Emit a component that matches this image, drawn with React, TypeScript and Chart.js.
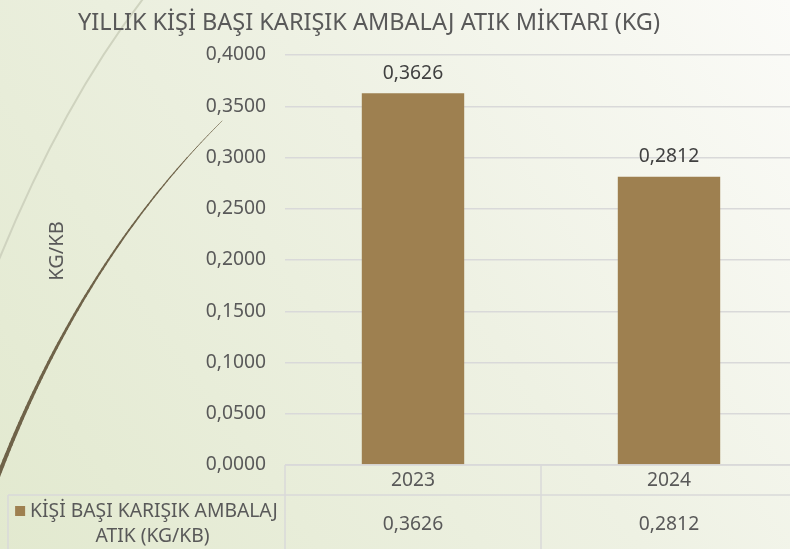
import React, { useEffect, useRef } from "react";
import { Chart, registerables } from "chart.js";

Chart.register(...registerables);

const TITLE = "YILLIK KİŞİ BAŞI KARIŞIK AMBALAJ ATIK MİKTARI (KG)";
const Y_TITLE = "KG/KB";
const CATEGORIES = ["2023", "2024"];
const VALUES = [0.3626, 0.2812];
const SERIES_NAME_LINES = ["KİŞİ BAŞI KARIŞIK AMBALAJ", "ATIK (KG/KB)"];
const Y_MIN = 0;
const Y_MAX = 0.4;
const Y_STEP = 0.05;

const FONT = "'Noto Sans', sans-serif";
const TEXT = "#595959";
const BAR = "#9E8050";
const GRID = "#d9d9d9";
const FS = 19.3;

const fmt = (v: number) => v.toFixed(4).replace(".", ",");

function qpt(p0: number[], c: number[], p2: number[], t: number) {
  const a = (1 - t) * (1 - t), b = 2 * (1 - t) * t, d = t * t;
  return [a * p0[0] + b * c[0] + d * p2[0], a * p0[1] + b * c[1] + d * p2[1]];
}

const decorPlugin = {
  id: "decor",
  beforeDraw(chart: any) {
    const ctx = chart.ctx;
    const w = 790, h = chart.height;
    ctx.save();
    const g = ctx.createLinearGradient(0, h, w, 0);
    g.addColorStop(0, "#e2e9cf");
    g.addColorStop(0.55, "#eef1e3");
    g.addColorStop(1, "#fbfbf8");
    ctx.fillStyle = g;
    ctx.fillRect(0, 0, chart.width, h);
    // light curve
    ctx.strokeStyle = "#cfd3bf";
    ctx.lineWidth = 2;
    ctx.beginPath();
    ctx.moveTo(146, -5);
    ctx.quadraticCurveTo(64, 100, -2, 262);
    ctx.stroke();
    // dark tapered curve
    const p0 = [222, 121], c = [79, 263], p2 = [-4, 482];
    ctx.strokeStyle = "#6f6349";
    ctx.lineCap = "round";
    const N = 80;
    for (let i = 0; i < N; i++) {
      const a = qpt(p0, c, p2, i / N);
      const b = qpt(p0, c, p2, (i + 1) / N);
      ctx.lineWidth = 0.6 + 3.4 * (i / N);
      ctx.beginPath();
      ctx.moveTo(a[0], a[1]);
      ctx.lineTo(b[0], b[1]);
      ctx.stroke();
    }
    ctx.restore();
  },
  afterDraw(chart: any) {
    const ctx = chart.ctx;
    const area = chart.chartArea;
    const xs = chart.scales.x;
    ctx.save();
    // title
    ctx.fillStyle = TEXT;
    ctx.textAlign = "center";
    ctx.textBaseline = "middle";
    ctx.font = `23.5px ${FONT}`;
    ctx.fillText(TITLE, 369, 23);
    // y title
    ctx.save();
    ctx.translate(57, 251);
    ctx.rotate(-Math.PI / 2);
    ctx.font = `20px ${FONT}`;
    ctx.fillText(Y_TITLE, 0, 0);
    ctx.restore();
    // data labels
    ctx.font = `${FS}px ${FONT}`;
    ctx.fillStyle = "#404040";
    const meta = chart.getDatasetMeta(0);
    meta.data.forEach((el: any, i: number) => {
      ctx.fillText(fmt(VALUES[i]), el.x, el.y - 20);
    });
    // table
    const pts = CATEGORIES.map((_, i) => xs.getPixelForValue(i));
    const half = (pts[1] - pts[0]) / 2;
    const top = area.bottom;
    const row1 = top + 30;
    const bottom = chart.height + 5;
    ctx.strokeStyle = GRID;
    ctx.lineWidth = 1.5;
    ctx.beginPath();
    ctx.moveTo(area.left, top);
    ctx.lineTo(chart.width, top);
    ctx.moveTo(8, row1);
    ctx.lineTo(chart.width, row1);
    ctx.moveTo(8, row1);
    ctx.lineTo(8, bottom);
    ctx.moveTo(area.left, top);
    ctx.lineTo(area.left, bottom);
    for (let i = 0; i < pts.length - 1; i++) {
      const bx = pts[i] + half;
      ctx.moveTo(bx, top);
      ctx.lineTo(bx, bottom);
    }
    ctx.stroke();
    ctx.fillStyle = TEXT;
    ctx.font = `${FS}px ${FONT}`;
    CATEGORIES.forEach((cat, i) => {
      ctx.fillText(cat, pts[i], top + 16);
      ctx.fillText(fmt(VALUES[i]), pts[i], row1 + 30);
    });
    // legend cell
    const cx = (8 + area.left) / 2;
    const l1 = SERIES_NAME_LINES[0];
    const w1 = ctx.measureText(l1).width;
    const keyW = 10, gap = 5;
    const startX = cx - (keyW + gap + w1) / 2;
    ctx.fillStyle = BAR;
    ctx.fillRect(startX, row1 + 11, keyW, keyW);
    ctx.fillStyle = TEXT;
    ctx.textAlign = "left";
    ctx.fillText(l1, startX + keyW + gap, row1 + 17);
    ctx.textAlign = "center";
    ctx.fillText(SERIES_NAME_LINES[1], cx + 6, row1 + 42);
    ctx.restore();
  },
};

export default function App() {
  const ref = useRef<HTMLCanvasElement>(null);
  useEffect(() => {
    document.body.style.margin = "0";
    const chart = new Chart(ref.current!, {
      type: "bar",
      data: {
        labels: CATEGORIES,
        datasets: [
          {
            label: SERIES_NAME_LINES.join(" "),
            data: VALUES,
            backgroundColor: BAR,
            barPercentage: 0.4,
            categoryPercentage: 1,
          },
        ],
      },
      options: {
        animation: false,
        responsive: true,
        maintainAspectRatio: false,
        layout: { padding: { top: 55, bottom: 84, left: 0, right: 0 } },
        plugins: {
          legend: { display: false },
          title: { display: false },
          tooltip: { enabled: false },
        },
        scales: {
          x: { display: false },
          y: {
            min: Y_MIN,
            max: Y_MAX,
            afterFit(scale: any) {
              scale.width = 285;
            },
            ticks: {
              stepSize: Y_STEP,
              padding: 19,
              color: TEXT,
              font: { family: FONT, size: FS },
              callback: (v: any) => fmt(Number(v)),
            },
            grid: { color: GRID, lineWidth: 1.5, drawTicks: false },
            border: { display: false },
          },
        },
      },
      plugins: [decorPlugin],
    });
    return () => chart.destroy();
  }, []);
  return (
    <div style={{ position: "fixed", left: 0, top: 0, width: 790, height: 549, overflow: "hidden" }}>
      <div style={{ position: "relative", width: 797, height: 549 }}>
        <canvas ref={ref} />
      </div>
    </div>
  );
}
